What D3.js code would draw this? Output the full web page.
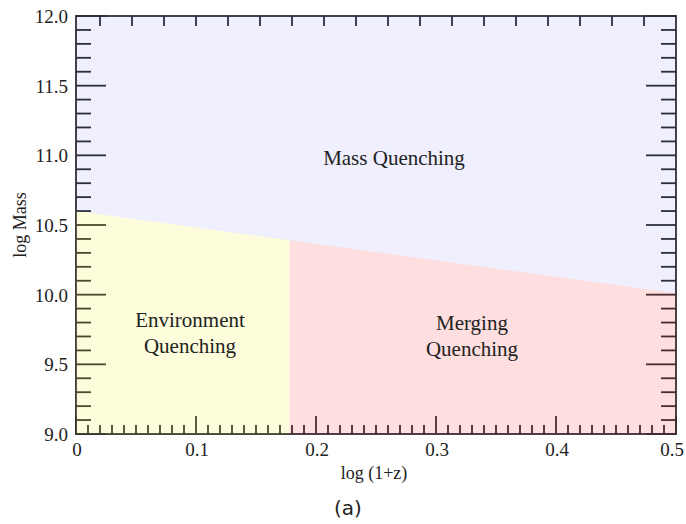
<!DOCTYPE html>
<html>
<head>
<meta charset="utf-8">
<script src="https://cdn.jsdelivr.net/npm/d3@7"></script>
<style>
  html, body { margin: 0; padding: 0; background: #fff; }
  svg { display: block; }
  text { font-family: "Liberation Serif", "Times New Roman", serif; fill: #222; }
</style>
</head>
<body>
<svg id="chart" width="686" height="524"></svg>
<script>
// Axis domains and tick values
const xDomain = [0, 0.5];
const yDomain = [9.0, 12.0];
const xMajorTicks = [0, 0.1, 0.2, 0.3, 0.4, 0.5];
const xTickLabels = ["0", "0.1", "0.2", "0.3", "0.4", "0.5"];
const yMajorTicks = [9.0, 9.5, 10.0, 10.5, 11.0, 11.5, 12.0];
const yTickLabels = ["9.0", "9.5", "10.0", "10.5", "11.0", "11.5", "12.0"];

// Quenching regime boundaries
const massBoundaryX = [0, 0.5];          // log(1+z) end points of the mass-quenching line
const massBoundaryY = [10.6, 10.01];     // log Mass at those end points
const environmentLimit = 0.178;          // log(1+z) where environment gives way to merging

// Region labels
const regionNames = ["Mass Quenching", "Environment|Quenching", "Merging|Quenching"];
const regionLabelX = [0.265, 0.095, 0.33];
const regionLabelY = [10.93, 9.77, 9.75];

const svg = d3.select("#chart");
const x = d3.scaleLinear().domain(xDomain).range([76, 676]);
const y = d3.scaleLinear().domain(yDomain).range([434, 16]);

const axisColor = "#2e2e36";

// frame and ticks (drawn first, tinted by the translucent regions on top)
const g = svg.append("g");

const xMinor = d3.range(0, 0.5001, 0.01).map(v => +v.toFixed(3));
const yMinor = d3.range(9.0, 12.0001, 0.1).map(v => +v.toFixed(2));
const isMajorX = v => xMajorTicks.some(t => Math.abs(t - v) < 1e-6);
const isMajorY = v => yMajorTicks.some(t => Math.abs(t - v) < 1e-6);

// bottom axis ticks
g.selectAll(".xb").data(xMinor).join("line")
  .attr("x1", d => x(d)).attr("x2", d => x(d))
  .attr("y1", y(9)).attr("y2", d => y(9) - (isMajorX(d) ? 18 : 9))
  .attr("stroke", axisColor).attr("stroke-width", 1.8);

// top axis ticks
g.selectAll(".xt").data(d3.range(1, 19).map(i => 0.5 - i * 32 / 1200)).join("line")
  .attr("x1", d => x(d)).attr("x2", d => x(d))
  .attr("y1", y(12)).attr("y2", y(12) + 10)
  .attr("stroke", axisColor).attr("stroke-width", 1.8);

// left and right axis ticks
[x(0), x(0.5)].forEach((px, side) => {
  const dir = side === 0 ? 1 : -1;
  g.selectAll(".y" + side).data(yMinor).join("line")
    .attr("x1", px).attr("x2", d => px + dir * (isMajorY(d) ? 30 : 15))
    .attr("y1", d => y(d)).attr("y2", d => y(d))
    .attr("stroke", axisColor).attr("stroke-width", 1.8);
});

g.append("rect")
  .attr("x", x(0)).attr("y", y(12))
  .attr("width", x(0.5) - x(0)).attr("height", y(9) - y(12))
  .attr("fill", "none").attr("stroke", axisColor).attr("stroke-width", 1.8);

// translucent regime regions
const regions = svg.append("g");
const lineAt = v => massBoundaryY[0] + (massBoundaryY[1] - massBoundaryY[0]) * (v - massBoundaryX[0]) / (massBoundaryX[1] - massBoundaryX[0]);

// mass quenching: above the boundary line
regions.append("path")
  .attr("d", d3.line()([
    [x(0), y(12)], [x(0.5), y(12)],
    [x(massBoundaryX[1]), y(massBoundaryY[1])],
    [x(massBoundaryX[0]), y(massBoundaryY[0])]
  ]) + "Z")
  .attr("fill", "rgb(40,40,230)").attr("fill-opacity", 0.075);

// environment quenching: low redshift, below the line
regions.append("path")
  .attr("d", d3.line()([
    [x(0), y(9)], [x(environmentLimit), y(9)],
    [x(environmentLimit), y(lineAt(environmentLimit))],
    [x(0), y(massBoundaryY[0])]
  ]) + "Z")
  .attr("fill", "rgb(240,240,0)").attr("fill-opacity", 0.14);

// merging quenching: high redshift, below the line
regions.append("path")
  .attr("d", d3.line()([
    [x(environmentLimit), y(9)], [x(0.5), y(9)],
    [x(0.5), y(massBoundaryY[1])],
    [x(environmentLimit), y(lineAt(environmentLimit))]
  ]) + "Z")
  .attr("fill", "rgb(245,20,30)").attr("fill-opacity", 0.14);

// tick labels (the last one is kept inside the page edge)
const lastX = xMajorTicks.length - 1;
svg.selectAll(".xl").data(xMajorTicks).join("text")
  .attr("x", (d, i) => i === lastX ? 684 : x(d) + 1).attr("y", 456)
  .attr("text-anchor", (d, i) => i === lastX ? "end" : "middle").attr("font-size", 19)
  .text((d, i) => xTickLabels[i]);

svg.selectAll(".yl").data(yMajorTicks).join("text")
  .attr("x", 68).attr("y", d => y(d) + 7)
  .attr("text-anchor", "end").attr("font-size", 19)
  .text((d, i) => yTickLabels[i]);

// axis titles
svg.append("text").attr("x", 374).attr("y", 479)
  .attr("text-anchor", "middle").attr("font-size", 18).text("log (1+z)");
svg.append("text")
  .attr("transform", `translate(26,${(y(9) + y(12)) / 2}) rotate(-90)`)
  .attr("text-anchor", "middle").attr("font-size", 18).text("log Mass");

// region labels
regionNames.forEach((name, i) => {
  const lines = name.split("|");
  const t = svg.append("text")
    .attr("text-anchor", "middle").attr("font-size", 21)
    .attr("x", x(regionLabelX[i])).attr("y", y(regionLabelY[i]));
  lines.forEach((ln, j) => {
    t.append("tspan").attr("x", x(regionLabelX[i])).attr("dy", j === 0 ? 0 : 26).text(ln);
  });
});

// panel caption
svg.append("text").attr("x", 348).attr("y", 515)
  .attr("text-anchor", "middle").attr("font-size", 20)
  .style("font-family", "'DejaVu Sans', sans-serif").text("(a)");
</script>
</body>
</html>
